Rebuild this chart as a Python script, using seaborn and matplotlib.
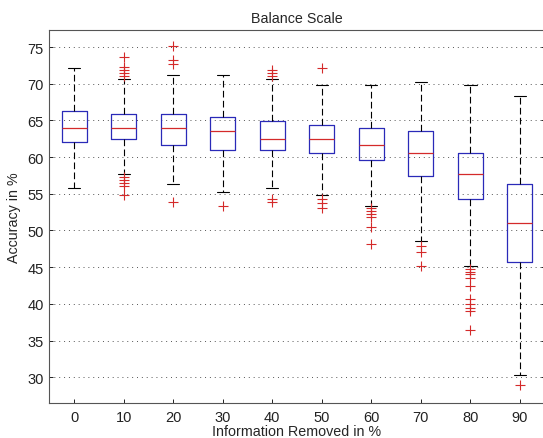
import matplotlib
matplotlib.use("Agg")
import matplotlib.pyplot as plt
import seaborn as sns

# ── data ────────────────────────────────────────────────────────────────────
removed = [0, 10, 20, 30, 40, 50, 60, 70, 80, 90]
whisker_low = [55.8, 57.7, 56.3, 55.3, 55.8, 54.8, 53.4, 48.5, 45.1, 30.3]
quartile_1 = [62.0, 62.5, 61.6, 61.0, 61.0, 60.5, 59.6, 57.4, 54.3, 45.7]
median = [64.0, 64.0, 64.0, 63.5, 62.5, 62.5, 61.6, 60.6, 57.7, 51.0]
quartile_3 = [66.3, 65.9, 65.9, 65.4, 64.9, 64.4, 64.0, 63.5, 60.5, 56.3]
whisker_high = [72.1, 70.6, 71.2, 71.2, 70.6, 69.8, 69.8, 70.2, 69.8, 68.3]
outliers = [
    [],
    [73.6, 72.3, 71.9, 71.5, 71.1, 57.3, 56.9, 56.5, 56.1, 54.8],
    [75.1, 73.2, 72.7, 53.9],
    [53.3],
    [71.9, 71.5, 71.1, 54.3, 53.9],
    [72.1, 54.3, 53.7, 53.1],
    [53.0, 52.7, 52.3, 51.8, 50.5, 48.1],
    [47.9, 47.1, 45.2],
    [44.8, 44.4, 44.0, 43.5, 42.4, 40.6, 40.0, 39.4, 39.0, 36.4],
    [28.9],
]

sns.set_theme(style="white")
plt.rcParams["font.family"] = ["Liberation Sans", "DejaVu Sans"]

stats = [
    dict(label=str(r), whislo=lo, q1=a, med=m, q3=b, whishi=hi, fliers=f)
    for r, lo, a, m, b, hi, f in zip(removed, whisker_low, quartile_1, median,
                                      quartile_3, whisker_high, outliers)
]

fig = plt.figure(figsize=(5.43, 4.39), dpi=100)
ax = fig.add_axes([0.091, 0.080, 0.912, 0.849])

ax.bxp(
    stats,
    positions=range(1, len(removed) + 1),
    widths=0.5,
    capwidths=0.25,
    boxprops=dict(color="#2a2ab8", linewidth=0.9),
    medianprops=dict(color="#d42a2a", linewidth=0.9),
    whiskerprops=dict(color="black", linestyle=(0, (6, 3)), linewidth=0.8),
    capprops=dict(color="black", linewidth=0.8),
    flierprops=dict(marker="+", markeredgecolor="#d42a2a", markersize=7,
                    markeredgewidth=0.8, linestyle="none"),
)

ax.set_xlim(0.5, 10.5)
ax.set_ylim(26.5, 77.3)
ax.set_yticks(range(30, 76, 5))
ax.yaxis.grid(True, linestyle=(0, (1, 4)), color="#555555", linewidth=0.7)
ax.set_axisbelow(True)

for s in ax.spines.values():
    s.set_color("#555555")
    s.set_linewidth(0.8)

ax.tick_params(axis="both", direction="in", length=3, labelsize=10.5, colors="#222222",
               width=0.7)
ax.tick_params(axis="y", right=True, left=True, pad=4)
ax.tick_params(axis="x", bottom=True, pad=5)

ax.set_title("Balance Scale", fontsize=10.3, pad=6)
ax.set_xlabel("Information Removed in %", fontsize=10.3, labelpad=0)
ax.set_ylabel("Accuracy in %", fontsize=10.3, labelpad=5)

fig.savefig("out.png", dpi=100)
